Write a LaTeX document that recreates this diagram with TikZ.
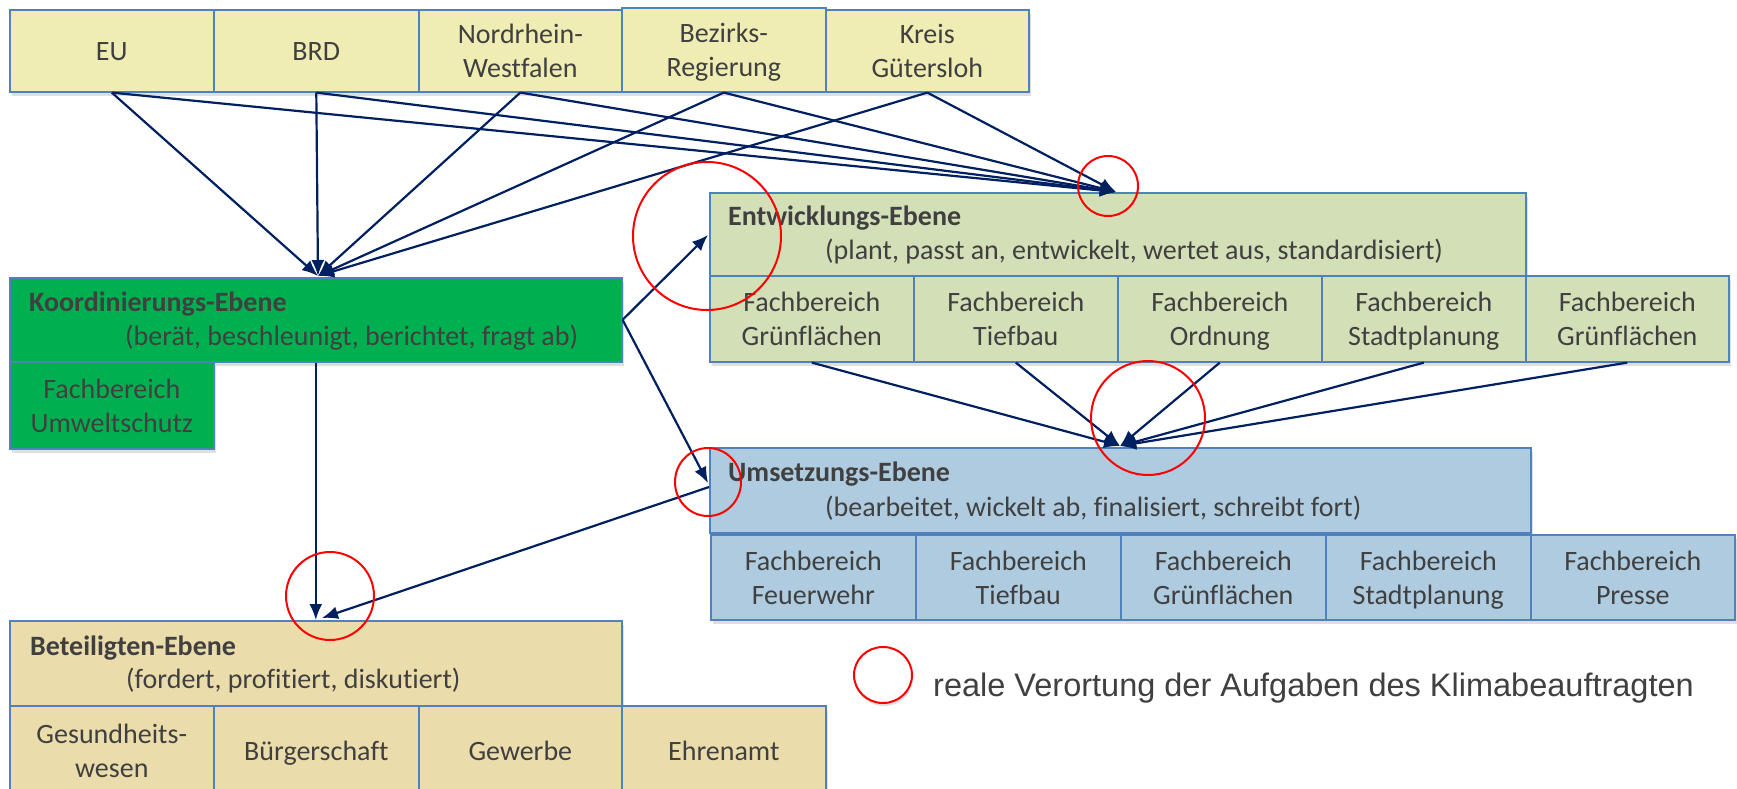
\documentclass[tikz,border=0pt]{standalone}
\usepackage{fontspec}
\setmainfont[Ligatures=NoCommon]{Carlito}
\newfontfamily\arialf{Liberation Sans}
\usetikzlibrary{arrows.meta,shadows,shapes.geometric}
\definecolor{yel}{HTML}{EFEDB4}
\definecolor{grn}{HTML}{00B050}
\definecolor{oli}{HTML}{D3DFB7}
\definecolor{blu}{HTML}{AECBDF}
\definecolor{tan}{HTML}{EADCAB}
\definecolor{bord}{HTML}{4F81BD}
\definecolor{navy}{HTML}{002060}
\definecolor{txt}{HTML}{404040}
\newcommand\mst{\rule[-7pt]{0pt}{34pt}}
\newcommand\twol[2]{#1\mst\\#2\mst}
\begin{document}
\begin{tikzpicture}[x=1pt,y=-1pt,
  box/.style={draw=bord, line width=1.6pt, inner sep=0pt, anchor=north west, align=center,
    text=txt, font=\fontsize{28}{34}\selectfont,
    drop shadow={shadow xshift=2pt,shadow yshift=-4pt,opacity=0.25}},
  ttl/.style={anchor=west, inner sep=0pt, text=txt, font=\fontsize{28}{34}\selectfont\bfseries},
  sub/.style={anchor=west, inner sep=0pt, text=txt, font=\fontsize{28}{34}\selectfont},
  arr/.style={draw=navy, line width=2.2pt, -{Latex[length=16pt,width=13pt]}},
  ring/.style={draw=red, line width=2pt}
]
\clip (0,0) rectangle (1737,789);
\fill[white] (0,0) rectangle (1737,789);

% top row
\node[box, fill=yel, minimum width=204, minimum height=82] (eu) at (9,9) {EU\mst};
\node[box, fill=yel, minimum width=205, minimum height=82] (brd) at (213,9) {BRD\mst};
\node[box, fill=yel, minimum width=203, minimum height=82] (nrw) at (418,9) {\twol{Nordrhein-}{Westfalen}};
\node[box, fill=yel, minimum width=204, minimum height=84] (bez) at (621,7) {\twol{Bezirks-}{Regierung}};
\node[box, fill=yel, minimum width=203, minimum height=82] (kreis) at (825,9) {\twol{Kreis}{Gütersloh}};

% Koordinierung
\node[box, fill=grn, minimum width=612, minimum height=84] (koord) at (9,277) {};
\node[ttl] (koordt) at (29,304) {Koordinierungs-Ebene};
\node[sub] (koords) at (125,338) {(berät, beschleunigt, berichtet, fragt ab)};
\node[box, fill=grn, minimum width=204, minimum height=87] (umw) at (9,361) {\twol{Fachbereich}{Umweltschutz}};

% Entwicklung
\node[box, fill=oli, minimum width=816, minimum height=83] (entw) at (709,192) {};
\node[ttl] (entwt) at (728,218) {Entwicklungs-Ebene};
\node[sub] (entws) at (825,252) {(plant, passt an, entwickelt, wertet aus, standardisiert)};
\node[box, fill=oli, minimum width=204, minimum height=86] (e1) at (709,275) {\twol{Fachbereich}{Grünflächen}};
\node[box, fill=oli, minimum width=204, minimum height=86] (e2) at (913,275) {\twol{Fachbereich}{Tiefbau}};
\node[box, fill=oli, minimum width=204, minimum height=86] (e3) at (1117,275) {\twol{Fachbereich}{Ordnung}};
\node[box, fill=oli, minimum width=204, minimum height=86] (e4) at (1321,275) {\twol{Fachbereich}{Stadtplanung}};
\node[box, fill=oli, minimum width=203, minimum height=86] (e5) at (1525,275) {\twol{Fachbereich}{Grünflächen}};

% Umsetzung
\node[box, fill=blu, minimum width=821, minimum height=85] (ums) at (709,447) {};
\node[ttl] (umst) at (728,474) {Umsetzungs-Ebene};
\node[sub] (umss) at (825,508) {(bearbeitet, wickelt ab, finalisiert, schreibt fort)};
\node[box, fill=blu, minimum width=205, minimum height=85] (u1) at (710,534) {\twol{Fachbereich}{Feuerwehr}};
\node[box, fill=blu, minimum width=205, minimum height=85] (u2) at (915,534) {\twol{Fachbereich}{Tiefbau}};
\node[box, fill=blu, minimum width=205, minimum height=85] (u3) at (1120,534) {\twol{Fachbereich}{Grünflächen}};
\node[box, fill=blu, minimum width=205, minimum height=85] (u4) at (1325,534) {\twol{Fachbereich}{Stadtplanung}};
\node[box, fill=blu, minimum width=204, minimum height=85] (u5) at (1530,534) {\twol{Fachbereich}{Presse}};

% Beteiligte
\node[box, fill=tan, minimum width=612, minimum height=85] (bet) at (9,620) {};
\node[ttl] (bett) at (30,648) {Beteiligten-Ebene};
\node[sub] (bets) at (126,681) {(fordert, profitiert, diskutiert)};
\node[box, fill=tan, minimum width=204, minimum height=90] (b1) at (9,705) {\twol{Gesundheits-}{wesen}};
\node[box, fill=tan, minimum width=205, minimum height=90] (b2) at (213,705) {Bürgerschaft\mst};
\node[box, fill=tan, minimum width=203, minimum height=90] (b3) at (418,705) {Gewerbe\mst};
\node[box, fill=tan, minimum width=204, minimum height=90] (b4) at (621,705) {Ehrenamt\mst};

% target coordinates
\coordinate (kt) at (318,276);
\coordinate (et) at (1116,192);
\coordinate (el) at (708,235);
\coordinate (ul) at (708,483);
\coordinate (uo) at (709,487);
\coordinate (bt) at (322,618);
\coordinate (ut) at (1120,446);

% arrows from top
\foreach \n in {eu,brd,nrw,bez,kreis}{
  \draw[arr] (\n.south) -- (kt);
  \draw[arr] (\n.south) -- (et);
}
\draw[arr] (koord.east) -- (el);
\draw[arr] (koord.east) -- (ul);
\draw[arr] (koord.south) -- (bet.north);
\draw[arr] (uo) -- (bt);
\foreach \n in {e1,e2,e3,e4,e5}{
  \draw[arr] (\n.south) -- (ut);
}

% red rings
\draw[ring] (1108,186) ellipse [x radius=30, y radius=30];
\draw[ring] (707,236) ellipse [x radius=74, y radius=74];
\draw[ring] (1148,418) ellipse [x radius=57, y radius=57];
\draw[ring] (708,482) ellipse [x radius=33, y radius=34];
\draw[ring] (330,596) ellipse [x radius=44, y radius=44];

% legend
\node[ring, ellipse, minimum width=58, minimum height=56, inner sep=0pt, fill=white,
  drop shadow={shadow xshift=1pt,shadow yshift=-3pt,opacity=0.25}] (leg) at (883,675) {};
\node[anchor=west, inner sep=0pt, text=txt, font=\arialf\fontsize{32.5}{38}\selectfont] (legt) at (933,688) {reale Verortung der Aufgaben des Klimabeauftragten};
\end{tikzpicture}
\end{document}
